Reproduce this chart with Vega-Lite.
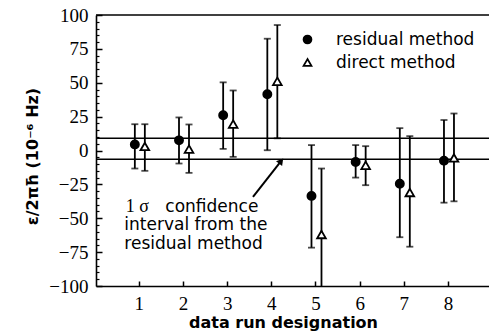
{
  "$schema": "https://vega.github.io/schema/vega-lite/v6.json",
  "autosize": "none",
  "width": 393,
  "height": 271,
  "padding": {"left": 96, "top": 15, "right": 0, "bottom": 45},
  "background": "white",
  "config": {
    "view": {"stroke": "transparent", "strokeWidth": 0},
    "axis": {"domain": true, "domainColor": "black", "domainWidth": 1.6, "grid": false, "labelFont": "Liberation Serif", "labelFontSize": 19, "labelColor": "black", "tickColor": "black", "titleFont": "DejaVu Sans", "titleFontWeight": "bold", "titleFontSize": 16, "titleColor": "black"},
    "axisRight": {"domain": false, "ticks": false, "labels": false, "title": null},
    "legend": {"labelFont": "DejaVu Sans", "labelFontSize": 17, "labelColor": "black"}
  },
  "resolve": {"axis": {"y": "independent"}},
  "datasets": {
    "runs": [
      {"run": 1, "method": "residual method", "value": 4.5, "lo": -13.3, "hi": 19.4},
      {"run": 2, "method": "residual method", "value": 7.5, "lo": -9.6, "hi": 24.4},
      {"run": 3, "method": "residual method", "value": 26, "lo": 1.2, "hi": 50.3},
      {"run": 4, "method": "residual method", "value": 41.5, "lo": 0.2, "hi": 82.5},
      {"run": 5, "method": "residual method", "value": -33.5, "lo": -71.7, "hi": 4},
      {"run": 6, "method": "residual method", "value": -8.5, "lo": -20, "hi": 4},
      {"run": 7, "method": "residual method", "value": -24.5, "lo": -64, "hi": 16.5},
      {"run": 8, "method": "residual method", "value": -7.5, "lo": -38.5, "hi": 22.5},
      {"run": 1, "method": "direct method", "value": 3, "lo": -15, "hi": 19.4},
      {"run": 2, "method": "direct method", "value": 1, "lo": -16.5, "hi": 19.2},
      {"run": 3, "method": "direct method", "value": 19.5, "lo": -4.7, "hi": 44.3},
      {"run": 4, "method": "direct method", "value": 51, "lo": 9, "hi": 92.6},
      {"run": 5, "method": "direct method", "value": -62, "lo": -110, "hi": -13.3},
      {"run": 6, "method": "direct method", "value": -11, "lo": -25.6, "hi": 3.2},
      {"run": 7, "method": "direct method", "value": -31, "lo": -71, "hi": 10.6},
      {"run": 8, "method": "direct method", "value": -5.5, "lo": -37.5, "hi": 27.3}
    ],
    "band": [{"bound": 9}, {"bound": -6.5}]
  },
  "layer": [
    {
      "data": {"name": "band"},
      "mark": {"type": "rule", "stroke": "black", "strokeWidth": 1.5},
      "encoding": {
        "y": {"field": "bound", "type": "quantitative", "scale": {"domain": [-100, 100], "nice": false},
          "axis": {"title": "ε/2πħ  (10⁻⁶ Hz)", "orient": "left", "values": [-100, -75, -50, -25, 0, 25, 50, 75, 100], "tickSize": -6, "tickWidth": 1.5, "labelPadding": 14, "titleX": -64, "titleY": 141, "titleAngle": -90, "titleAlign": "center", "titleBaseline": "middle"}}
      }
    },
    {
      "data": {"name": "band"},
      "mark": {"type": "rule", "strokeWidth": 0},
      "encoding": {
        "y": {"field": "bound", "type": "quantitative",
          "axis": {"title": null, "orient": "left", "domain": false, "labels": false, "values": [-95, -90, -85, -80, -70, -65, -60, -55, -45, -40, -35, -30, -20, -15, -10, -5, 5, 10, 15, 20, 30, 35, 40, 45, 55, 60, 65, 70, 80, 85, 90, 95], "tickSize": -3, "tickWidth": 1.2}}
      }
    },
    {
      "data": {"values": [{}]},
      "mark": {"type": "rule", "stroke": "black", "strokeWidth": 1.6},
      "encoding": {"y": {"datum": 100, "axis": null}}
    },
    {
      "data": {"name": "runs"},
      "transform": [{"filter": "datum.method === 'residual method'"}],
      "mark": {"type": "rule", "stroke": "black", "strokeWidth": 1.8, "xOffset": -4, "clip": true},
      "encoding": {
        "x": {"field": "run", "type": "quantitative", "scale": {"domain": [0.03, 8.929], "nice": false, "zero": false},
          "axis": {"title": "data run designation", "values": [1, 2, 3, 4, 5, 6, 7, 8], "tickSize": -5, "tickWidth": 1.5, "labelPadding": 22, "labelBaseline": "middle", "labelFlush": false, "titleX": 187, "titleY": 36, "titleBaseline": "middle"}},
        "y": {"field": "lo", "type": "quantitative", "axis": null},
        "y2": {"field": "hi"}
      }
    },
    {
      "data": {"name": "runs"},
      "transform": [{"filter": "datum.method === 'direct method'"}],
      "mark": {"type": "rule", "stroke": "black", "strokeWidth": 1.8, "xOffset": 6, "clip": true},
      "encoding": {
        "x": {"field": "run", "type": "quantitative"},
        "y": {"field": "lo", "type": "quantitative", "axis": null},
        "y2": {"field": "hi"}
      }
    },
    {
      "data": {"name": "runs"},
      "transform": [{"filter": "datum.method === 'residual method'"}],
      "mark": {"type": "tick", "orient": "horizontal", "color": "black", "size": 7, "thickness": 1.8, "xOffset": -4, "clip": true},
      "encoding": {"x": {"field": "run", "type": "quantitative"}, "y": {"field": "lo", "type": "quantitative", "axis": null}}
    },
    {
      "data": {"name": "runs"},
      "transform": [{"filter": "datum.method === 'residual method'"}],
      "mark": {"type": "tick", "orient": "horizontal", "color": "black", "size": 7, "thickness": 1.8, "xOffset": -4, "clip": true},
      "encoding": {"x": {"field": "run", "type": "quantitative"}, "y": {"field": "hi", "type": "quantitative", "axis": null}}
    },
    {
      "data": {"name": "runs"},
      "transform": [{"filter": "datum.method === 'direct method'"}],
      "mark": {"type": "tick", "orient": "horizontal", "color": "black", "size": 7, "thickness": 1.8, "xOffset": 6, "clip": true},
      "encoding": {"x": {"field": "run", "type": "quantitative"}, "y": {"field": "lo", "type": "quantitative", "axis": null}}
    },
    {
      "data": {"name": "runs"},
      "transform": [{"filter": "datum.method === 'direct method'"}],
      "mark": {"type": "tick", "orient": "horizontal", "color": "black", "size": 7, "thickness": 1.8, "xOffset": 6, "clip": true},
      "encoding": {"x": {"field": "run", "type": "quantitative"}, "y": {"field": "hi", "type": "quantitative", "axis": null}}
    },
    {
      "data": {"name": "runs"},
      "transform": [{"filter": "datum.method === 'residual method'"}],
      "mark": {"type": "point", "filled": true, "strokeWidth": 1.8, "size": 66, "opacity": 1, "xOffset": -4},
      "encoding": {
        "x": {"field": "run", "type": "quantitative"},
        "y": {"field": "value", "type": "quantitative", "axis": null},
        "shape": {"field": "method", "type": "nominal", "scale": {"domain": ["residual method", "direct method"], "range": ["circle", "triangle-up"]},
          "legend": {"title": null, "orient": "none", "legendX": 203, "legendY": 16, "symbolSize": 62, "symbolStrokeWidth": 1.8, "labelOffset": 20, "rowPadding": 5}},
        "fill": {"field": "method", "type": "nominal", "scale": {"domain": ["residual method", "direct method"], "range": ["black", "white"]},
          "legend": {"title": null, "orient": "none", "legendX": 203, "legendY": 16, "symbolSize": 62, "symbolStrokeWidth": 1.8, "labelOffset": 20, "rowPadding": 5}},
        "stroke": {"field": "method", "type": "nominal", "scale": {"domain": ["residual method", "direct method"], "range": ["black", "black"]},
          "legend": {"title": null, "orient": "none", "legendX": 203, "legendY": 16, "symbolSize": 62, "symbolStrokeWidth": 1.8, "labelOffset": 20, "rowPadding": 5}}
      }
    },
    {
      "data": {"name": "runs"},
      "transform": [{"filter": "datum.method === 'direct method'"}],
      "mark": {"type": "point", "filled": true, "strokeWidth": 1.8, "size": 75, "opacity": 1, "xOffset": 6},
      "encoding": {
        "x": {"field": "run", "type": "quantitative"},
        "y": {"field": "value", "type": "quantitative", "axis": null},
        "shape": {"field": "method", "type": "nominal"},
        "fill": {"field": "method", "type": "nominal"},
        "stroke": {"field": "method", "type": "nominal"}
      }
    },
    {
      "data": {"values": [{}]},
      "mark": {"type": "text", "font": "Liberation Serif", "fontSize": 18, "align": "left", "baseline": "middle", "color": "black"},
      "encoding": {"x": {"datum": 0.705}, "y": {"datum": -41.5, "axis": null}, "text": {"value": "1 σ"}}
    },
    {
      "data": {"values": [{}]},
      "mark": {"type": "text", "font": "DejaVu Sans", "fontSize": 17, "align": "left", "baseline": "middle", "color": "black"},
      "encoding": {"x": {"datum": 1.6}, "y": {"datum": -41.5, "axis": null}, "text": {"value": "confidence"}}
    },
    {
      "data": {"values": [{}]},
      "mark": {"type": "text", "font": "DejaVu Sans", "fontSize": 17, "align": "left", "baseline": "middle", "color": "black"},
      "encoding": {"x": {"datum": 0.671}, "y": {"datum": -55.3, "axis": null}, "text": {"value": "interval from the"}}
    },
    {
      "data": {"values": [{}]},
      "mark": {"type": "text", "font": "DejaVu Sans", "fontSize": 17, "align": "left", "baseline": "middle", "color": "black"},
      "encoding": {"x": {"datum": 0.671}, "y": {"datum": -69.3, "axis": null}, "text": {"value": "residual method"}}
    },
    {
      "data": {"values": [{}]},
      "mark": {"type": "rule", "stroke": "black", "strokeWidth": 2},
      "encoding": {"x": {"datum": 3.585}, "y": {"datum": -34.3, "axis": null}, "x2": {"datum": 4.22}, "y2": {"datum": -7.8}}
    },
    {
      "data": {"values": [{}]},
      "mark": {"type": "point", "shape": "triangle-up", "filled": true, "color": "black", "size": 60, "angle": 38, "opacity": 1},
      "encoding": {"x": {"datum": 4.222}, "y": {"datum": -7.8, "axis": null}}
    }
  ]
}
